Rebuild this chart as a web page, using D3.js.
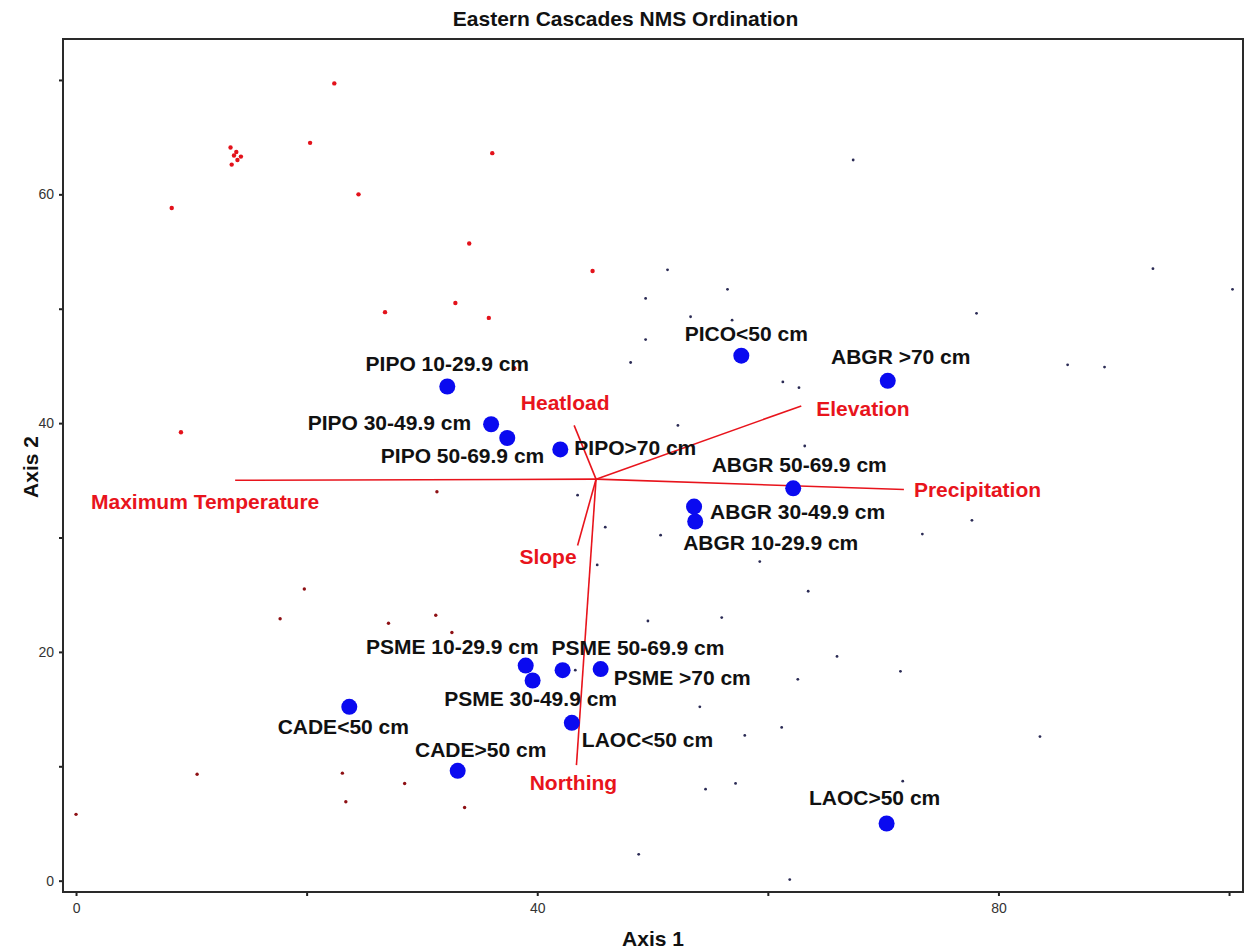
<!DOCTYPE html>
<html>
<head>
<meta charset="utf-8">
<script src="https://cdn.jsdelivr.net/npm/d3@7"></script>
<style>
  body { margin: 0; background: #fff; }
  text { font-family: "Liberation Sans", Arial, sans-serif; }
</style>
</head>
<body>
<div id="chart"></div>
<script>
// Species / size-class centroids (Axis 1, Axis 2)
const speciesNames = ["PIPO 10-29.9 cm", "PIPO 30-49.9 cm", "PIPO 50-69.9 cm", "PIPO>70 cm",
    "PICO<50 cm", "ABGR >70 cm", "ABGR 50-69.9 cm", "ABGR 30-49.9 cm", "ABGR 10-29.9 cm",
    "PSME 10-29.9 cm", "PSME 30-49.9 cm", "PSME 50-69.9 cm", "PSME >70 cm",
    "LAOC<50 cm", "CADE<50 cm", "CADE>50 cm", "LAOC>50 cm"];
const speciesX = [32.2, 36.0, 37.4, 42.0, 57.7, 70.4, 62.2, 53.6, 53.7, 39.0, 39.6, 42.2, 45.5, 43.0, 23.7, 33.1, 70.3];
const speciesY = [43.2, 39.9, 38.7, 37.7, 45.9, 43.7, 34.3, 32.7, 31.4, 18.8, 17.5, 18.4, 18.5, 13.8, 15.2, 9.6, 5.0];

// Environmental vectors (joint plot)
const vectorOrigin = [45.1, 35.1];
const vectorNames = ["Maximum Temperature", "Precipitation", "Elevation", "Heatload", "Slope", "Northing"];
const vectorX = [13.8, 71.8, 62.9, 43.2, 43.5, 43.4];
const vectorY = [35.0, 34.2, 41.5, 39.8, 29.3, 10.1];

// Plot scores
const warmPlots = [[22.4, 69.7], [13.4, 64.1], [13.9, 63.7], [13.7, 63.4], [14.3, 63.3], [14.0, 63.0],
    [13.5, 62.6], [20.3, 64.5], [8.3, 58.8], [24.5, 60.0], [34.1, 55.7], [36.1, 63.6], [44.8, 53.3],
    [26.8, 49.7], [32.9, 50.5], [35.8, 49.2], [9.1, 39.2], [38.0, 44.8]];
const dryPlots = [[31.3, 34.0], [19.8, 25.5], [17.7, 22.9], [27.1, 22.5], [31.2, 23.2], [32.6, 21.7],
    [10.5, 9.3], [23.1, 9.4], [28.5, 8.5], [23.4, 6.9], [33.7, 6.4], [0.0, 5.8]];
const coolPlots = [[51.3, 53.4], [56.5, 51.7], [49.4, 50.9], [53.3, 49.3], [56.9, 49.0], [49.4, 47.3],
    [48.1, 45.3], [61.3, 43.6], [62.7, 43.1], [52.2, 39.8], [63.2, 38.0], [43.5, 33.7], [45.9, 30.9],
    [50.7, 30.2], [67.4, 63.0], [93.4, 53.5], [100.3, 51.7], [78.1, 49.6], [86.0, 45.1], [89.2, 44.9],
    [77.7, 31.5], [73.4, 30.3], [59.3, 27.9], [66.0, 19.6], [71.5, 18.3], [62.6, 17.6], [43.3, 18.4],
    [54.1, 15.2], [58.0, 12.7], [61.2, 13.4], [71.7, 8.7], [54.6, 8.0], [57.2, 8.5], [48.8, 2.3],
    [61.9, 0.1], [45.2, 27.6], [49.6, 22.7], [56.0, 23.0], [83.6, 12.6], [63.5, 25.3]];

// Tick values
const xTicks = [0, 20, 40, 60, 80, 100];
const yTicks = [0, 10, 20, 30, 40, 50, 60, 70];

// Label placement (anchor, dx, dy in px from the point)
const speciesLabelPos = [
    ["middle", 0, -16], ["end", -20, 6], ["end", 37, 25], ["start", 14, 6],
    ["middle", 5, -15], ["middle", 13, -17], ["middle", 6, -16], ["start", 16, 12], ["start", -12, 29],
    ["end", 13, -12], ["middle", -2, 26], ["start", -11, -15], ["start", 13, 16],
    ["start", 10, 24], ["middle", -6, 27], ["middle", 23, -14], ["middle", -12, -18]];
const vectorLabelPos = [["middle", -30, 29], ["start", 10, 8], ["start", 15, 10],
    ["middle", -9, -15], ["end", -1, 18], ["middle", -3, 25]];

const W = 1251, H = 952;
const margin = { top: 39, right: 8, bottom: 60, left: 63 };
const width = W - margin.left - margin.right;
const height = H - margin.top - margin.bottom;

const svg = d3.select("#chart").append("svg")
    .attr("width", W)
    .attr("height", H);

const g = svg.append("g")
    .attr("transform", `translate(${margin.left},${margin.top})`);

const x = d3.scaleLinear().domain([-1.13, 101.21]).range([0, width]);
const y = d3.scaleLinear().domain([-0.99, 73.58]).range([height, 0]);

// Axes
const xAxis = g.append("g")
    .attr("transform", `translate(0,${height})`)
    .call(d3.axisBottom(x).tickValues(xTicks).tickSize(4).tickPadding(7)
        .tickFormat(d => d % 40 === 0 ? d : ""));
const yAxis = g.append("g")
    .call(d3.axisLeft(y).tickValues(yTicks).tickSize(4).tickPadding(5)
        .tickFormat(d => d % 20 === 0 ? d : ""));
[xAxis, yAxis].forEach(a => {
    a.select(".domain").remove();
    a.selectAll("line").attr("stroke", "#222").attr("stroke-width", 2);
    a.selectAll("text").attr("font-size", 14).attr("fill", "#333")
        .attr("font-family", "'Liberation Sans', Arial, sans-serif");
});

// Frame
g.append("rect")
    .attr("width", width)
    .attr("height", height)
    .attr("fill", "none")
    .attr("stroke", "#2a2a2a")
    .attr("stroke-width", 2);

// Plot dots
g.selectAll(".warm").data(warmPlots).enter().append("circle")
    .attr("cx", d => x(d[0])).attr("cy", d => y(d[1])).attr("r", 2.2)
    .attr("fill", "#e3121b");
g.selectAll(".dry").data(dryPlots).enter().append("circle")
    .attr("cx", d => x(d[0])).attr("cy", d => y(d[1])).attr("r", 1.7)
    .attr("fill", "#8e1014");
g.selectAll(".cool").data(coolPlots).enter().append("circle")
    .attr("cx", d => x(d[0])).attr("cy", d => y(d[1])).attr("r", 1.4)
    .attr("fill", "#2b2b55");

// Vectors
const vectors = vectorNames.map((n, i) => ({ name: n, x: vectorX[i], y: vectorY[i], pos: vectorLabelPos[i] }));
g.selectAll(".vec").data(vectors).enter().append("line")
    .attr("x1", x(vectorOrigin[0])).attr("y1", y(vectorOrigin[1]))
    .attr("x2", d => x(d.x)).attr("y2", d => y(d.y))
    .attr("stroke", "#e8141c").attr("stroke-width", 1.6);

// Species centroids
const species = speciesNames.map((n, i) => ({ name: n, x: speciesX[i], y: speciesY[i], pos: speciesLabelPos[i] }));
g.selectAll(".sp").data(species).enter().append("circle")
    .attr("cx", d => x(d.x)).attr("cy", d => y(d.y)).attr("r", 8)
    .attr("fill", "#0a0af0");

g.selectAll(".splabel").data(species).enter().append("text")
    .attr("x", d => x(d.x) + d.pos[1])
    .attr("y", d => y(d.y) + d.pos[2])
    .attr("text-anchor", d => d.pos[0])
    .attr("font-size", 21)
    .attr("font-weight", "bold")
    .attr("fill", "#111")
    .text(d => d.name);

g.selectAll(".veclabel").data(vectors).enter().append("text")
    .attr("x", d => x(d.x) + d.pos[1])
    .attr("y", d => y(d.y) + d.pos[2])
    .attr("text-anchor", d => d.pos[0])
    .attr("font-size", 21)
    .attr("font-weight", "bold")
    .attr("fill", "#e8141c")
    .text(d => d.name);

// Titles
svg.append("text")
    .attr("x", W / 2)
    .attr("y", 26)
    .attr("text-anchor", "middle")
    .attr("font-size", 21)
    .attr("font-weight", "bold")
    .attr("fill", "#111")
    .text("Eastern Cascades NMS Ordination");

svg.append("text")
    .attr("x", margin.left + width / 2)
    .attr("y", 946)
    .attr("text-anchor", "middle")
    .attr("font-size", 21)
    .attr("font-weight", "bold")
    .attr("fill", "#111")
    .text("Axis 1");

svg.append("text")
    .attr("transform", "rotate(-90)")
    .attr("x", -467)
    .attr("y", 38)
    .attr("text-anchor", "middle")
    .attr("font-size", 21)
    .attr("font-weight", "bold")
    .attr("fill", "#111")
    .text("Axis 2");
</script>
</body>
</html>
